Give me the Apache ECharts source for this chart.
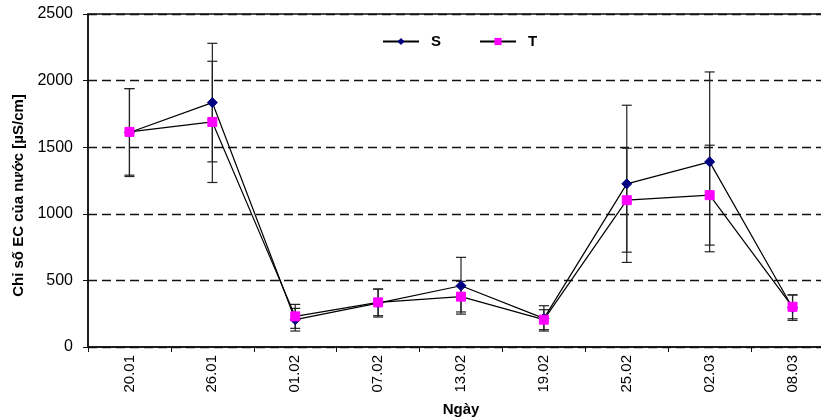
<!DOCTYPE html>
<html>
<head>
<meta charset="utf-8">
<script src="https://cdn.jsdelivr.net/npm/echarts@6/dist/echarts.min.js"></script>
<style>html,body{margin:0;padding:0;background:#fff}#c{width:821px;height:420px}</style>
</head>
<body>
<div id="c"></div>
<script>
var categories = ['20.01','26.01','01.02','07.02','13.02','19.02','25.02','02.03','08.03'];
var sValues = [1610, 1835, 205, 330, 460, 215, 1225, 1390, 295];
var tValues = [1615, 1690, 230, 335, 378, 205, 1102, 1140, 302];
var sErr = [330, 445, 85, 105, 213, 95, 590, 675, 95];
var tErr = [325, 455, 90, 100, 115, 75, 390, 375, 90];
var yTicks = [0, 500, 1000, 1500, 2000, 2500];

var FONT = '"Liberation Sans", Arial, sans-serif';
var chart = echarts.init(document.getElementById('c'), null, {renderer: 'canvas'});

function errData(vals, errs) {
  return vals.map(function (v, i) { return [i, v, errs[i]]; });
}
function renderErr(params, api) {
  var i = api.value(0), v = api.value(1), e = api.value(2);
  var hi = api.coord([i, v + e]);
  var lo = api.coord([i, v - e]);
  var w = 5;
  var st = {stroke: '#222', lineWidth: 1.2};
  return {
    type: 'group',
    children: [
      {type: 'line', shape: {x1: hi[0], y1: hi[1], x2: lo[0], y2: lo[1]}, style: st},
      {type: 'line', shape: {x1: hi[0] - w, y1: hi[1], x2: hi[0] + w, y2: hi[1]}, style: st},
      {type: 'line', shape: {x1: lo[0] - w, y1: lo[1], x2: lo[0] + w, y2: lo[1]}, style: st}
    ]
  };
}

var yMin = yTicks[0], yMax = yTicks[yTicks.length - 1], yInt = yTicks[1] - yTicks[0];

chart.setOption({
  animation: false,
  backgroundColor: '#fff',
  grid: {left: 88, top: 14, right: -13, bottom: 73, outerBoundsMode: 'none', containLabel: false,
         show: true, borderColor: '#111', borderWidth: 1.5, backgroundColor: 'transparent'},
  legend: {
    left: 377, top: 29, itemWidth: 36, itemHeight: 9, itemGap: 38,
    data: ['S', 'T'],
    textStyle: {fontFamily: FONT, fontSize: 15, fontWeight: 'bold', color: '#000', padding: [0, 0, 0, 7]}
  },
  xAxis: {
    type: 'category', data: categories, boundaryGap: true,
    name: 'Ngày', nameLocation: 'middle', nameGap: 55,
    nameTextStyle: {fontFamily: FONT, fontSize: 15, fontWeight: 'bold', color: '#000'},
    axisLine: {lineStyle: {color: '#111', width: 1.5}},
    axisTick: {show: true, length: 5, alignWithLabel: false, lineStyle: {color: '#111'}},
    axisLabel: {rotate: 90, margin: 8, fontFamily: FONT, fontSize: 15, color: '#000'},
    splitLine: {show: false}
  },
  yAxis: [{
    type: 'value', min: yMin, max: yMax, interval: yInt,
    name: 'Chỉ số EC của nước [µS/cm]', nameLocation: 'middle', nameGap: 62,
    nameTextStyle: {fontFamily: FONT, fontSize: 15, fontWeight: 'bold', color: '#000', padding: [0, 30, 0, 0]},
    axisLine: {show: true, lineStyle: {color: '#111', width: 1.5}},
    axisTick: {show: true, length: 5, lineStyle: {color: '#111'}},
    axisLabel: {margin: 15, fontFamily: FONT, fontSize: 16, color: '#000', formatter: function (v) { return String(v); }},
    splitLine: {show: true, lineStyle: {color: '#111', type: [9, 5], width: 1.4}}
  }, {
    type: 'value', min: yMin, max: yMax, interval: yInt, position: 'left',
    axisLine: {show: false},
    axisTick: {show: true, inside: true, length: 5, lineStyle: {color: '#111'}},
    axisLabel: {show: false},
    splitLine: {show: false}
  }],
  series: [
    {type: 'custom', name: 'errS', renderItem: renderErr, data: errData(sValues, sErr), z: 3, silent: true},
    {type: 'custom', name: 'errT', renderItem: renderErr, data: errData(tValues, tErr), z: 3, silent: true},
    {
      type: 'line', name: 'S', data: sValues, z: 5,
      symbol: 'diamond', symbolSize: 10,
      lineStyle: {color: '#000', width: 1.2},
      itemStyle: {color: '#000080', borderColor: '#000080'}
    },
    {
      type: 'line', name: 'T', data: tValues, z: 6,
      symbol: 'rect', symbolSize: 9,
      lineStyle: {color: '#000', width: 1.2},
      itemStyle: {color: '#ff00ff', borderColor: '#ff00ff'}
    }
  ]
});
</script>
</body>
</html>
